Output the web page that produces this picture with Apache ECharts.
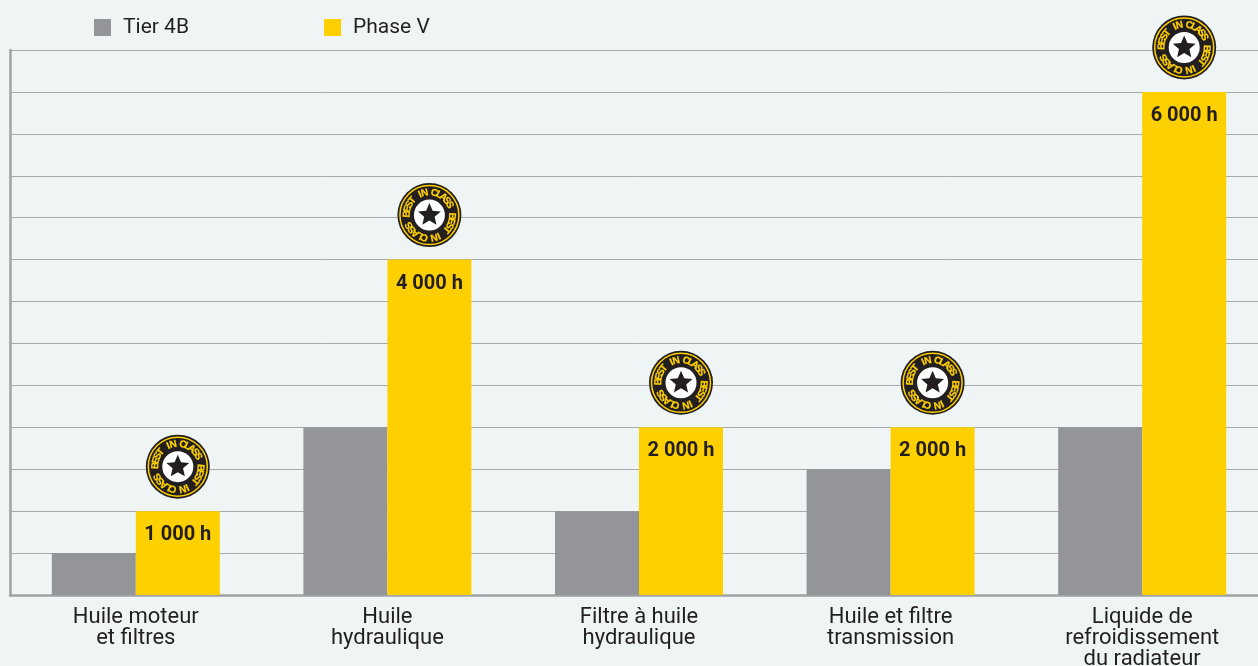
<!DOCTYPE html>
<html>
<head>
<meta charset="utf-8">
<style>
  html, body { margin: 0; padding: 0; background: #eff5f5; }
  #chart { width: 1258px; height: 666px; }
</style>
<script src="https://cdn.jsdelivr.net/npm/echarts@6/dist/echarts.min.js"></script>
</head>
<body>
<div id="chart"></div>
<script>
const categories = [
  'Huile moteur\net filtres',
  'Huile\nhydraulique',
  'Filtre à huile\nhydraulique',
  'Huile et filtre\ntransmission',
  'Liquide de\nrefroidissement\ndu radiateur',
]
const tier4b = [500, 2000, 1000, 1500, 2000]
const phaseV = [1000, 4000, 2000, 2000, 6000]
const phaseVLabels = ['1 000 h', '4 000 h', '2 000 h', '2 000 h', '6 000 h']
const badgeText = 'BEST IN CLASS'

const barWidth = 84
const textColor = '#231f20'
const fontFamily = 'Roboto, "Noto Sans", sans-serif'

// one arc of the badge, each letter rotated on its own
const arcLetters = (cx, cy, radius, midAngle) => {
  const step = 12.5
  const start = midAngle - step * (badgeText.length - 1) / 2
  return badgeText.split('').map((ch, i) => {
    const deg = start + step * i
    const rad = deg * Math.PI / 180
    return {
      type: 'text',
      x: cx + radius * Math.sin(rad),
      y: cy - radius * Math.cos(rad),
      rotation: -rad,
      style: {
        text: ch,
        fill: '#ffd000',
        stroke: '#ffd000',
        lineWidth: 0.25,
        font: 'bold 10px "Liberation Sans Narrow", sans-serif',
        align: 'center',
        verticalAlign: 'middle',
      },
    }
  })
}

const starPoints = (cx, cy, outer, inner) => {
  const pts = []
  for (let i = 0; i < 10; i++) {
    const r = i % 2 ? inner : outer
    const a = i * Math.PI / 5
    pts.push([cx + r * Math.sin(a), cy - r * Math.cos(a)])
  }
  return pts
}

const renderBadge = (params, api) => {
  const top = api.coord([api.value(0), api.value(1)])
  const cx = top[0] + barWidth / 2
  const cy = top[1] - 44.5
  return {
    type: 'group',
    children: [
      { type: 'circle', shape: { cx, cy, r: 32 }, style: { fill: '#231f20' } },
      { type: 'circle', shape: { cx, cy, r: 29.5 }, style: { fill: 'none', stroke: '#ffd000', lineWidth: 1.5 } },
      { type: 'circle', shape: { cx, cy, r: 15.5 }, style: { fill: '#fff' } },
      { type: 'polygon', shape: { points: starPoints(cx, cy, 12, 5.5) }, style: { fill: '#231f20' } },
      ...arcLetters(cx, cy, 22.5, -12),
      ...arcLetters(cx, cy, 22.5, 168),
    ],
  }
}

const chart = echarts.init(document.getElementById('chart'))

chart.setOption({
  backgroundColor: '#eff5f5',
  animation: false,
  grid: { left: 10, right: -10, top: 50, bottom: 71, outerBoundsMode: 'none' },
  legend: {
    left: 94,
    top: 17,
    padding: 0,
    itemWidth: 17,
    itemHeight: 17,
    itemGap: 135,
    icon: 'rect',
    data: ['Tier 4B', 'Phase V'],
    textStyle: { color: textColor, fontFamily, fontSize: 21, padding: [0, 0, 0, 7] },
  },
  xAxis: {
    type: 'category',
    data: categories,
    axisLine: { lineStyle: { color: '#a0a2a5', width: 2.5 } },
    axisTick: { show: false },
    axisLabel: {
      color: textColor,
      fontFamily,
      fontSize: 22,
      lineHeight: 21,
      margin: 12,
      interval: 0,
    },
  },
  yAxis: {
    type: 'value',
    min: 0,
    max: 6500,
    interval: 500,
    axisLine: { show: true, lineStyle: { color: '#a0a2a5', width: 2.5 } },
    axisTick: { show: false },
    axisLabel: { show: false },
    splitLine: { lineStyle: { color: '#a7a9ac', width: 1 } },
  },
  series: [
    {
      name: 'Tier 4B',
      type: 'bar',
      data: tier4b,
      barWidth,
      barGap: 0,
      itemStyle: { color: '#939598' },
    },
    {
      name: 'Phase V',
      type: 'bar',
      data: phaseV,
      barWidth,
      itemStyle: { color: '#ffd000' },
      label: {
        show: true,
        position: 'insideTop',
        distance: 14,
        color: textColor,
        fontFamily,
        fontSize: 20,
        fontWeight: 'bold',
        formatter: p => phaseVLabels[p.dataIndex],
      },
    },
    {
      name: 'badge',
      type: 'custom',
      data: phaseV.map((v, i) => [i, v]),
      renderItem: renderBadge,
      z: 5,
    },
  ],
})
</script>
</body>
</html>
